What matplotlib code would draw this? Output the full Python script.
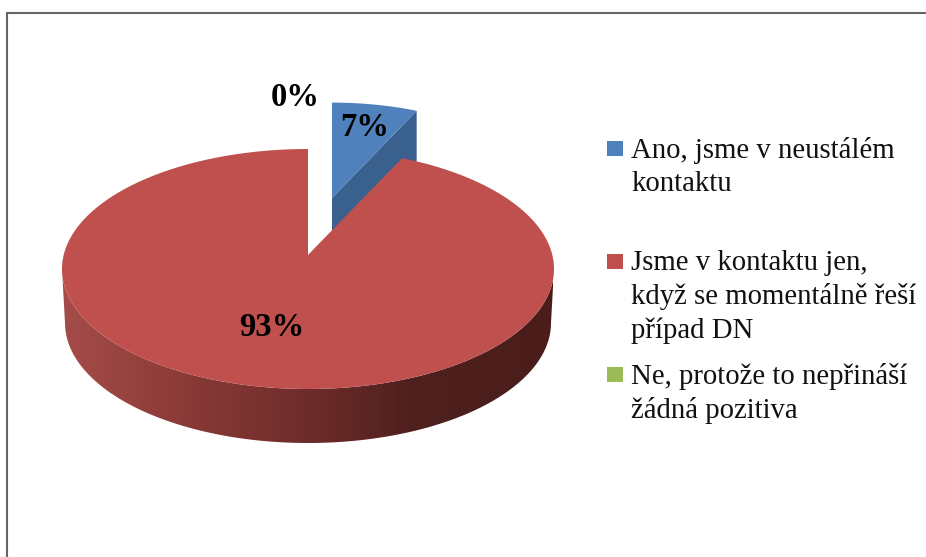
import numpy as np
import matplotlib
matplotlib.use('Agg')
import matplotlib.pyplot as plt
from matplotlib.patches import Polygon, Rectangle

plt.rcParams['font.family'] = ['Liberation Serif', 'DejaVu Serif']

# answers of the survey question, in percent
categories = ['Ano, jsme v neustálém\nkontaktu',
              'Jsme v kontaktu jen,\nkdyž se momentálně řeší\npřípad DN',
              'Ne, protože to nepřináší\nžádná pozitiva']
shares = [7, 93, 0]
colors = ['#4F81BD', '#C0504D', '#9BBB59']

# pie geometry in pixels of the picture
cx, cy = 308, 269
rx, ry = 246, 120
tilt = 0.117   # perspective, moves the pie centre up from the ellipse centre
depth = 54


def project(angle):
    # angle in degrees, clockwise from the top of the pie
    a = np.radians(angle)
    u, v = np.sin(a), np.cos(a)
    d = 1 + tilt * v
    x = cx + rx * u * np.sqrt(1 - tilt ** 2) / d
    y = cy - ry * (v + tilt) / d
    return x, y


def slice_points(start, end, move=(0, 0), scale=1.0):
    angles = np.linspace(start, end, 300)
    x, y = project(angles)
    ax0, ay0 = project(0)[0], cy - ry * tilt
    x = np.r_[ax0, x]
    y = np.r_[ay0, y]
    x = ax0 + (x - ax0) * scale + move[0]
    y = ay0 + (y - ay0) * scale + move[1]
    return np.c_[x, y]


fig = plt.figure(figsize=(9.26, 5.57), dpi=100)
ax = fig.add_axes([0, 0, 1, 1])
ax.set_xlim(0, 926)
ax.set_ylim(557, 0)
ax.axis('off')

# frame, only top and left show in the picture
ax.plot([7, 7, 926], [557, 13, 13], color='#666666', lw=1.5, solid_joinstyle='miter')

edges = np.cumsum([0] + shares) * 3.6

# blue slice is pulled out of the pie
blue = slice_points(edges[0], edges[1], move=(24, -57), scale=0.9)
end_x, end_y = blue[-1]
apex_x, apex_y = blue[0]
ax.add_patch(Polygon([(apex_x, apex_y), (end_x, end_y), (end_x, end_y + 50), (apex_x, apex_y + 52)],
                     closed=True, fc='#3A608E', ec='none', zorder=2))
ax.add_patch(Polygon(blue, closed=True, fc=colors[0], ec='none', zorder=3))

# side of the red slice, shaded from left to right
t = np.linspace(-90, 90, 300)
top_x = cx + rx * np.sin(np.radians(t + 180))
top_y = cy - ry * np.cos(np.radians(t + 180))
low_x = cx + (rx - 3) * np.sin(np.radians(t + 180))
low_y = cy + depth - ry * np.cos(np.radians(t + 180))
side = Polygon(np.r_[np.c_[top_x, top_y], np.c_[low_x, low_y][::-1]], closed=True, fc='none', ec='none')
ax.add_patch(side)
cmap = matplotlib.colors.LinearSegmentedColormap.from_list(
    'side', [(0, '#A54C49'), (0.25, '#8A3A37'), (0.5, '#6E2C2A'), (0.72, '#4E201E'), (1, '#4A1D1B')])
img = ax.imshow(np.linspace(0, 1, 256)[None, :], cmap=cmap, aspect='auto',
                extent=(62, 553, 460, 260), zorder=4)
img.set_clip_path(side)
ax.set_xlim(0, 926)
ax.set_ylim(557, 0)

ax.add_patch(Polygon(slice_points(edges[1], edges[2]), closed=True, fc=colors[1], ec='none', zorder=5))

# value labels
label_pos = [(365, 127), (272, 327), (295, 98)]
for value, pos in zip(shares, label_pos):
    ax.text(pos[0], pos[1], f'{value}%', fontsize=23.5, fontweight='bold', color='black',
            ha='center', va='center', zorder=6)

# legend
marker_y = [141, 254, 367]
for name, color, y in zip(categories, colors, marker_y):
    ax.add_patch(Rectangle((607, y), 16, 15, fc=color, ec='none', zorder=6))
    for i, line in enumerate(name.split('\n')):
        ax.text(631, y + 9 + i * 34, line, fontsize=20.7, color='#111111', va='center', ha='left', zorder=6)

plt.savefig('out.png', dpi=100)
